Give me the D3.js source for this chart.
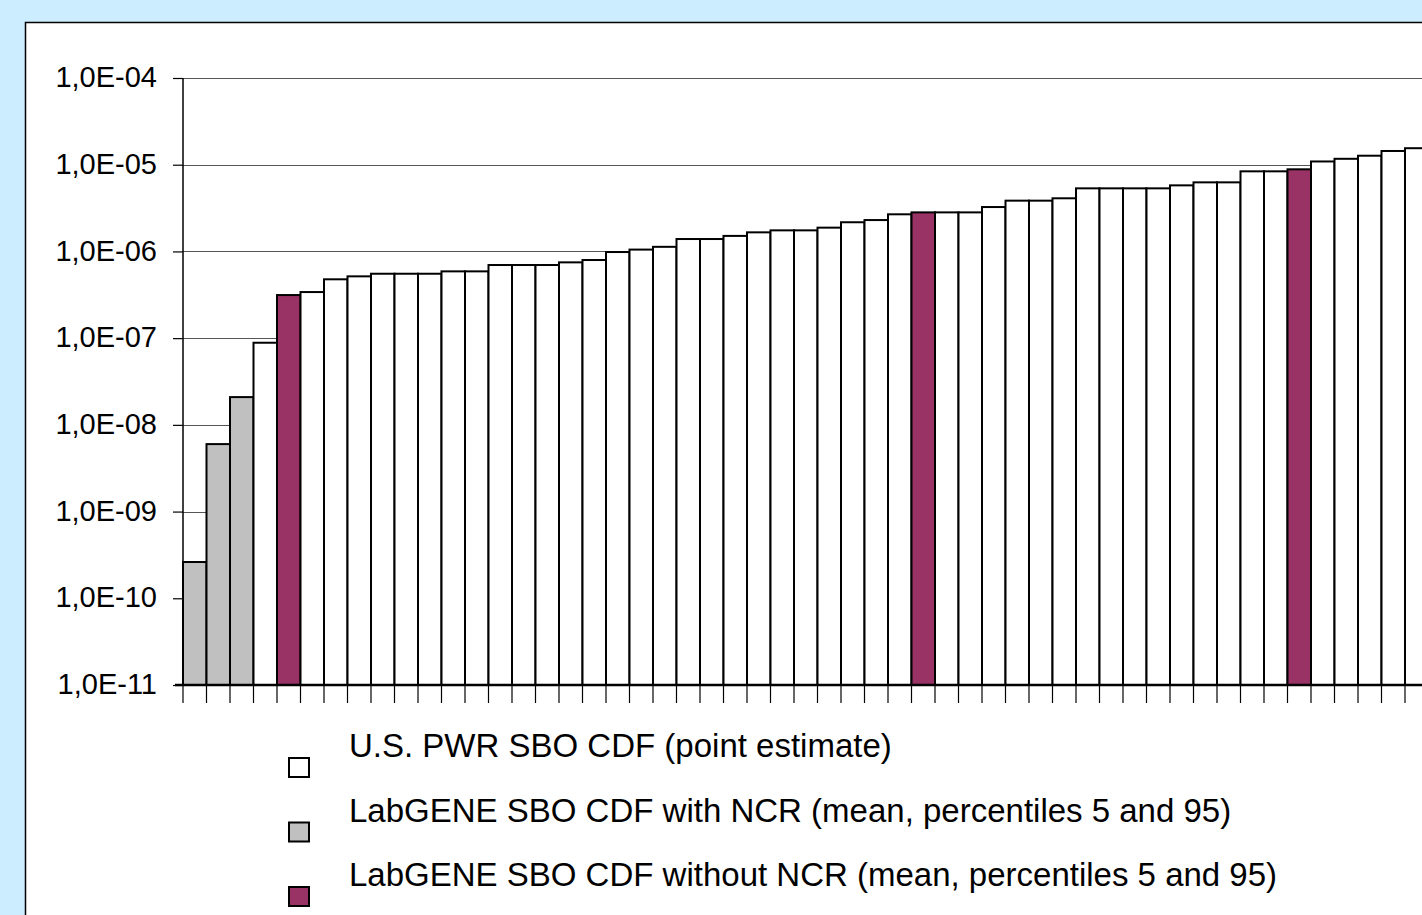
<!DOCTYPE html>
<html>
<head>
<meta charset="utf-8">
<script src="https://cdn.jsdelivr.net/npm/d3@7"></script>
<style>
  html, body { margin: 0; padding: 0; background: #CCECFF; overflow: hidden; }
  svg { display: block; }
  text { font-family: "Liberation Sans", Arial, sans-serif; fill: #000; }
</style>
</head>
<body>
<svg id="chart" width="1422" height="915"></svg>
<script>
// ---- Data ----
const plants = d3.range(1, 54).map(i => "Plant " + i);
const cdfValues = [
  2.62e-10, 6.0e-9, 2.09e-8, 8.85e-8, 3.14e-7, 3.40e-7, 4.77e-7, 5.16e-7, 5.53e-7, 5.53e-7,
  5.53e-7, 5.89e-7, 5.89e-7, 6.97e-7, 6.97e-7, 6.97e-7, 7.48e-7, 7.96e-7, 9.84e-7, 1.05e-6,
  1.13e-6, 1.39e-6, 1.39e-6, 1.51e-6, 1.66e-6, 1.75e-6, 1.75e-6, 1.88e-6, 2.17e-6, 2.30e-6,
  2.68e-6, 2.82e-6, 2.82e-6, 2.82e-6, 3.25e-6, 3.85e-6, 3.85e-6, 4.10e-6, 5.34e-6, 5.34e-6,
  5.34e-6, 5.34e-6, 5.78e-6, 6.26e-6, 6.26e-6, 8.39e-6, 8.39e-6, 8.85e-6, 1.09e-5, 1.17e-5,
  1.27e-5, 1.44e-5, 1.55e-5
];
// series: 0 = U.S. PWR point estimate, 1 = LabGENE with NCR, 2 = LabGENE without NCR
const seriesIndex = [
  1, 1, 1, 0, 2, 0, 0, 0, 0, 0,
  0, 0, 0, 0, 0, 0, 0, 0, 0, 0,
  0, 0, 0, 0, 0, 0, 0, 0, 0, 0,
  0, 2, 0, 0, 0, 0, 0, 0, 0, 0,
  0, 0, 0, 0, 0, 0, 0, 2, 0, 0,
  0, 0, 0
];
const seriesNames = [
  "U.S. PWR SBO CDF (point estimate)",
  "LabGENE SBO CDF with NCR (mean, percentiles 5 and 95)",
  "LabGENE SBO CDF without NCR (mean, percentiles 5 and 95)"
];
const seriesColors = ["#FFFFFF", "#C0C0C0", "#993366"];
const yTickValues = [1e-11, 1e-10, 1e-9, 1e-8, 1e-7, 1e-6, 1e-5, 1e-4];
const yTickLabels = ["1,0E-11", "1,0E-10", "1,0E-09", "1,0E-08", "1,0E-07", "1,0E-06", "1,0E-05", "1,0E-04"];

// ---- Layout ----
const svg = d3.select("#chart");
const plotLeft = 183, plotTop = 78, plotBottom = 685;
const barStep = 23.5;
const plotRight = plotLeft + barStep * plants.length;

// chart area
svg.append("rect")
  .attr("x", 25.5).attr("y", 22.5)
  .attr("width", 1422).attr("height", 915)
  .attr("fill", "#FFFFFF").attr("stroke", "#000").attr("stroke-width", 1.5);

const x = d3.scaleBand().domain(plants).range([plotLeft, plotRight]).paddingInner(0).paddingOuter(0);
const y = d3.scaleLog().domain([1e-11, 1e-4]).range([plotBottom, plotTop]);

// gridlines
svg.append("g").selectAll("line").data(yTickValues.slice(1)).join("line")
  .attr("x1", plotLeft).attr("x2", 1422)
  .attr("y1", d => Math.round(y(d)) + 0.5).attr("y2", d => Math.round(y(d)) + 0.5)
  .attr("stroke", "#555").attr("stroke-width", 1.2);

// bars
svg.append("g").selectAll("rect").data(plants).join("rect")
  .attr("x", d => x(d))
  .attr("y", (d, i) => y(cdfValues[i]))
  .attr("width", x.bandwidth())
  .attr("height", (d, i) => plotBottom - y(cdfValues[i]))
  .attr("fill", (d, i) => seriesColors[seriesIndex[i]])
  .attr("stroke", "#000").attr("stroke-width", 2);

// y axis
const yAxis = d3.axisLeft(y)
  .tickValues(yTickValues)
  .tickFormat((d, i) => yTickLabels[i])
  .tickSize(10).tickPadding(16);
const gy = svg.append("g").attr("transform", `translate(${plotLeft},0)`).call(yAxis);
gy.select(".domain").attr("stroke", "#000").attr("stroke-width", 1.5).attr("d", `M0,${plotTop}V${plotBottom}`);
gy.selectAll(".tick line").attr("stroke", "#000").attr("stroke-width", 1.2);
gy.selectAll(".tick text")
  .attr("font-size", 29).attr("font-family", "Liberation Sans, Arial, sans-serif")
  .attr("fill", "#000").attr("dy", "0.3em");

// x axis: ticks at category boundaries
const xBoundaries = plants.map(p => x(p)).concat([plotRight]);
const gx = svg.append("g");
gx.selectAll("line").data(xBoundaries).join("line")
  .attr("x1", d => d).attr("x2", d => d)
  .attr("y1", plotBottom).attr("y2", plotBottom + 18)
  .attr("stroke", "#000").attr("stroke-width", 1.2);
gx.append("line")
  .attr("x1", plotLeft - 8).attr("x2", plotRight)
  .attr("y1", plotBottom).attr("y2", plotBottom)
  .attr("stroke", "#000").attr("stroke-width", 2.5);

// legend
const legend = svg.append("g");
const legendRows = [0, 1, 2];
const legendY = d3.scalePoint().domain(legendRows).range([757, 886]);
legendRows.forEach(r => {
  const by = legendY(r);
  legend.append("rect")
    .attr("x", 289).attr("y", by + 1)
    .attr("width", 20).attr("height", 19)
    .attr("fill", seriesColors[r]).attr("stroke", "#000").attr("stroke-width", 2);
  legend.append("text")
    .attr("x", 349).attr("y", by)
    .attr("font-size", 33)
    .text(seriesNames[r]);
});
</script>
</body>
</html>
